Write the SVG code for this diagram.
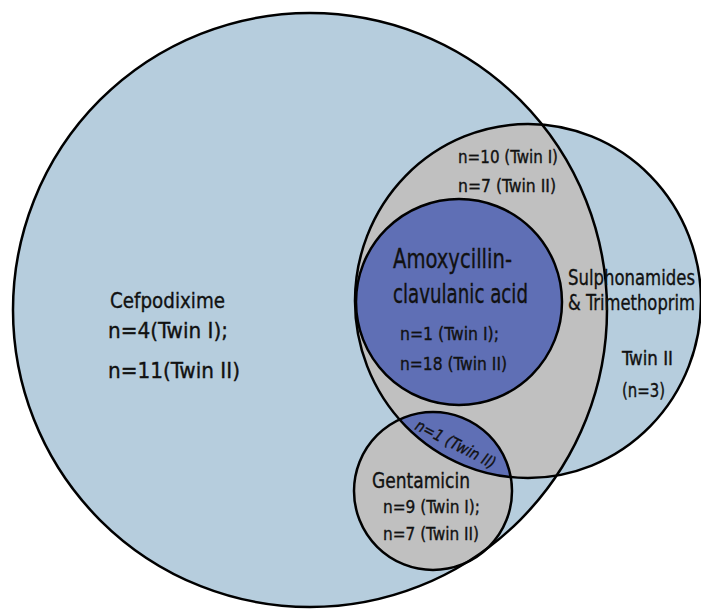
<svg xmlns="http://www.w3.org/2000/svg" width="701" height="610" viewBox="0 0 701 610">
<style>
.ln{stroke:#000;stroke-width:2.5;fill:none}
.t{font-family:"Liberation Sans Narrow","DejaVu Sans Condensed","Liberation Sans",sans-serif;fill:#111;stroke:#111;stroke-width:0.35}
</style>
<defs>
<clipPath id="cBig"><circle cx="310" cy="310" r="297"/></clipPath>
<clipPath id="cSul"><ellipse cx="528" cy="301" rx="173" ry="177"/></clipPath>
</defs>
<rect width="701" height="610" fill="#fff"/>
<g id="cefpodixime">
<circle cx="310" cy="310" r="297" fill="#b6cddd"/>
</g>
<g id="sulphonamides">
<ellipse cx="528" cy="301" rx="173" ry="177" fill="#b6cddd"/>
<ellipse cx="528" cy="301" rx="173" ry="177" fill="#c0c0c0" clip-path="url(#cBig)"/>
</g>
<g id="amoxycillin">
<circle cx="459" cy="302" r="103" fill="#5f6fb5"/>
</g>
<g id="gentamicin">
<circle cx="433" cy="491" r="79" fill="#c0c0c0"/>
<circle cx="433" cy="491" r="79" fill="#5f6fb5" clip-path="url(#cSul)"/>
</g>
<g id="outlines">
<circle class="ln" cx="310" cy="310" r="297"/>
<ellipse class="ln" cx="528" cy="301" rx="173" ry="177"/>
<circle class="ln" cx="459" cy="302" r="103"/>
<circle class="ln" cx="433" cy="491" r="79"/>
</g>
<g id="labels">
<text class="t" x="110" y="308" font-size="22" textLength="115" lengthAdjust="spacingAndGlyphs">Cefpodixime</text>
<text class="t" x="108" y="338" font-size="22" textLength="120" lengthAdjust="spacingAndGlyphs">n=4(Twin I);</text>
<text class="t" x="108" y="378" font-size="22" textLength="132" lengthAdjust="spacingAndGlyphs">n=11(Twin II)</text>
<text class="t" x="458" y="163" font-size="18" textLength="100" lengthAdjust="spacingAndGlyphs">n=10 (Twin I)</text>
<text class="t" x="458" y="192" font-size="18" textLength="98" lengthAdjust="spacingAndGlyphs">n=7 (Twin II)</text>
<text class="t" x="393" y="268" font-size="27" textLength="119" lengthAdjust="spacingAndGlyphs">Amoxycillin-</text>
<text class="t" x="393" y="303" font-size="27" textLength="135" lengthAdjust="spacingAndGlyphs">clavulanic acid</text>
<text class="t" x="400" y="340" font-size="18" textLength="99" lengthAdjust="spacingAndGlyphs">n=1 (Twin I);</text>
<text class="t" x="400" y="370" font-size="18" textLength="107" lengthAdjust="spacingAndGlyphs">n=18 (Twin II)</text>
<text class="t" x="568" y="285" font-size="22" textLength="127" lengthAdjust="spacingAndGlyphs">Sulphonamides</text>
<text class="t" x="568" y="310" font-size="22" textLength="127" lengthAdjust="spacingAndGlyphs">&amp; Trimethoprim</text>
<text class="t" x="622" y="365" font-size="19" textLength="51" lengthAdjust="spacingAndGlyphs">Twin II</text>
<text class="t" x="622" y="397" font-size="19" textLength="43" lengthAdjust="spacingAndGlyphs">(n=3)</text>
<text class="t" x="0" y="0" font-size="16" font-style="italic" textLength="88" lengthAdjust="spacingAndGlyphs" transform="translate(414 429) rotate(27)">n=1 (Twin II)</text>
<text class="t" x="372" y="488" font-size="22" textLength="98" lengthAdjust="spacingAndGlyphs">Gentamicin</text>
<text class="t" x="383" y="513" font-size="18" textLength="97" lengthAdjust="spacingAndGlyphs">n=9 (Twin I);</text>
<text class="t" x="383" y="540" font-size="18" textLength="96" lengthAdjust="spacingAndGlyphs">n=7 (Twin II)</text>
</g>
</svg>
